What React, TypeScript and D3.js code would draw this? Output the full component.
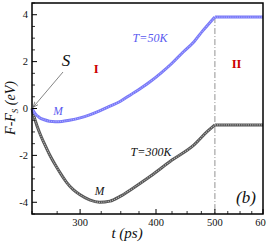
import React from "react";
import * as d3 from "d3";

// ---- data (t in ps, F-F_S in eV) ----
const t50 = [250, 253, 257, 262, 267, 273, 280, 288, 300, 311, 323, 336, 349, 364, 377, 391, 407, 425, 443, 462, 477, 490, 500];
const f50 = [0, -0.22, -0.38, -0.48, -0.54, -0.56, -0.55, -0.5, -0.4, -0.27, -0.1, 0.1, 0.3, 0.6, 0.85, 1.14, 1.5, 1.93, 2.4, 2.85, 3.3, 3.65, 3.9];
const t50flat = [500, 600];
const f50flat = [3.9, 3.9];

const t300 = [250, 253, 257, 262, 267, 273, 279, 285, 292, 300, 311, 323, 336, 349, 364, 391, 425, 462, 485, 500];
const f300 = [0, -0.5, -1.0, -1.5, -1.95, -2.4, -2.8, -3.15, -3.45, -3.68, -3.9, -4.0, -3.95, -3.75, -3.45, -2.9, -2.2, -1.55, -1.0, -0.7];
const t300flat = [500, 600];
const f300flat = [-0.7, -0.7];

const xMajor = [300, 400, 500, 600];
const xMinor = [250, 275, 325, 350, 375, 425, 450, 475, 525, 550, 575];
const yMajor = [-4, -2, 0, 2, 4];
const yMinor = [-4.5, -3.5, -3, -2.5, -1.5, -1, -0.5, 0.5, 1, 1.5, 2.5, 3, 3.5, 4.5];

const W = 266;
const H = 242;
const L = 32, R = 263, T = 3, B = 214;
const FONT = "'Liberation Serif', 'Times New Roman', serif";

export default function App() {
  const x = d3.scaleLog().domain([250, 600]).range([L, R]);
  const y = d3.scaleLinear().domain([-4.5, 4.5]).range([B, T]);

  const curve = d3
    .line<[number, number]>()
    .x((d) => x(d[0]))
    .y((d) => y(d[1]))
    .curve(d3.curveMonotoneX);
  const lin = d3
    .line<[number, number]>()
    .x((d) => x(d[0]))
    .y((d) => y(d[1]));

  const zip = (a: number[], b: number[]) => a.map((v, i) => [v, b[i]] as [number, number]);
  const b1 = curve(zip(t50, f50)) || "";
  const b2 = lin(zip(t50flat, f50flat)) || "";
  const k1 = curve(zip(t300, f300)) || "";
  const k2 = lin(zip(t300flat, f300flat)) || "";

  const series = (paths: string[], outer: string, inner: string) => (
    <g fill="none">
      {paths.map((p, i) => (
        <path key={"o" + i} d={p} stroke={outer} strokeWidth={3} strokeLinejoin="round" />
      ))}
      {paths.map((p, i) => (
        <path key={"i" + i} d={p} stroke={inner} strokeWidth={1.2} strokeDasharray="1 1.2" />
      ))}
    </g>
  );

  return (
    <div style={{ position: "fixed", left: 0, top: 0 }}>
      <svg width={W} height={H} style={{ display: "block", background: "#fff" }} fontFamily={FONT}>
        <defs>
          <marker id="arr" viewBox="0 0 10 10" refX="10" refY="5" markerWidth="7" markerHeight="7" orient="auto">
            <path d="M0,1 L10,5 L0,9" fill="none" stroke="#555" strokeWidth={1.2} />
          </marker>
        </defs>

        {/* dash-dot divider at t=500 */}
        <line
          x1={x(500)}
          x2={x(500)}
          y1={y(3.9)}
          y2={B}
          stroke="#777"
          strokeWidth={0.8}
          strokeDasharray="6 2 1 2"
        />

        {series([k1, k2], "#555", "#b8b8b8")}
        {series([b1, b2], "#7878f8", "#adadff")}

        {/* ticks */}
        {xMajor.map((v) => (
          <line key={"xM" + v} x1={x(v)} x2={x(v)} y1={B} y2={B - 5} stroke="#000" strokeWidth={1} />
        ))}
        {xMinor.map((v) => (
          <line key={"xm" + v} x1={x(v)} x2={x(v)} y1={B} y2={B - 3} stroke="#000" strokeWidth={0.8} />
        ))}
        {yMajor.map((v) => (
          <line key={"yM" + v} x1={L} x2={L + 5} y1={y(v)} y2={y(v)} stroke="#000" strokeWidth={1} />
        ))}
        {yMinor.map((v) => (
          <line key={"ym" + v} x1={L} x2={L + 3} y1={y(v)} y2={y(v)} stroke="#000" strokeWidth={0.8} />
        ))}

        {/* frame */}
        <rect x={L} y={T} width={R - L} height={B - T} fill="none" stroke="#000" strokeWidth={1.5} />

        {/* tick labels */}
        {xMajor.map((v) => (
          <text key={"xl" + v} x={x(v)} y={226} textAnchor="middle" fontSize={10.5} fill="#111">
            {v}
          </text>
        ))}
        {yMajor.map((v) => (
          <text key={"yl" + v} x={28} y={y(v)} dy="0.35em" textAnchor="end" fontSize={10.5} fill="#111">
            {v === 0 ? "0" : v < 0 ? "-" + Math.abs(v) : String(v)}
          </text>
        ))}

        {/* axis titles */}
        <text x={127} y={238} textAnchor="middle" fontSize={15} fontStyle="italic" fill="#111">
          t (ps)
        </text>
        <text
          transform={`translate(15,108) rotate(-90)`}
          textAnchor="middle"
          fontSize={14}
          fontStyle="italic"
          fill="#111"
        >
          F-F
          <tspan fontSize={9} dy={3}>
            S
          </tspan>
          <tspan dy={-3}> (eV)</tspan>
        </text>

        {/* annotations */}
        <line x1={63} y1={72} x2={x(251)} y2={y(0.05)} stroke="#666" strokeWidth={0.8} markerEnd="url(#arr)" />
        <text x={66} y={65.5} textAnchor="middle" fontSize={17} fontStyle="italic" fill="#111">
          S
        </text>
        <text x={58} y={115} textAnchor="middle" fontSize={11.5} fontStyle="italic" fill="#5a5af0">
          M
        </text>
        <text x={99.5} y={195} textAnchor="middle" fontSize={11.5} fontStyle="italic" fill="#111">
          M
        </text>
        <text x={150} y={41.5} textAnchor="middle" fontSize={12} fontStyle="italic" fill="#5a5af0">
          T=50K
        </text>
        <text x={151} y={156} textAnchor="middle" fontSize={12} fontStyle="italic" fill="#111">
          T=300K
        </text>
        <text x={96.3} y={73.3} textAnchor="middle" fontSize={12.5} fontWeight="bold" fill="#cc0000">
          I
        </text>
        <text x={236.5} y={68.3} textAnchor="middle" fontSize={12.5} fontWeight="bold" fill="#cc0000">
          II
        </text>
        <text x={246} y={203} textAnchor="middle" fontSize={17} fontStyle="italic" fill="#111">
          (b)
        </text>
      </svg>
    </div>
  );
}
